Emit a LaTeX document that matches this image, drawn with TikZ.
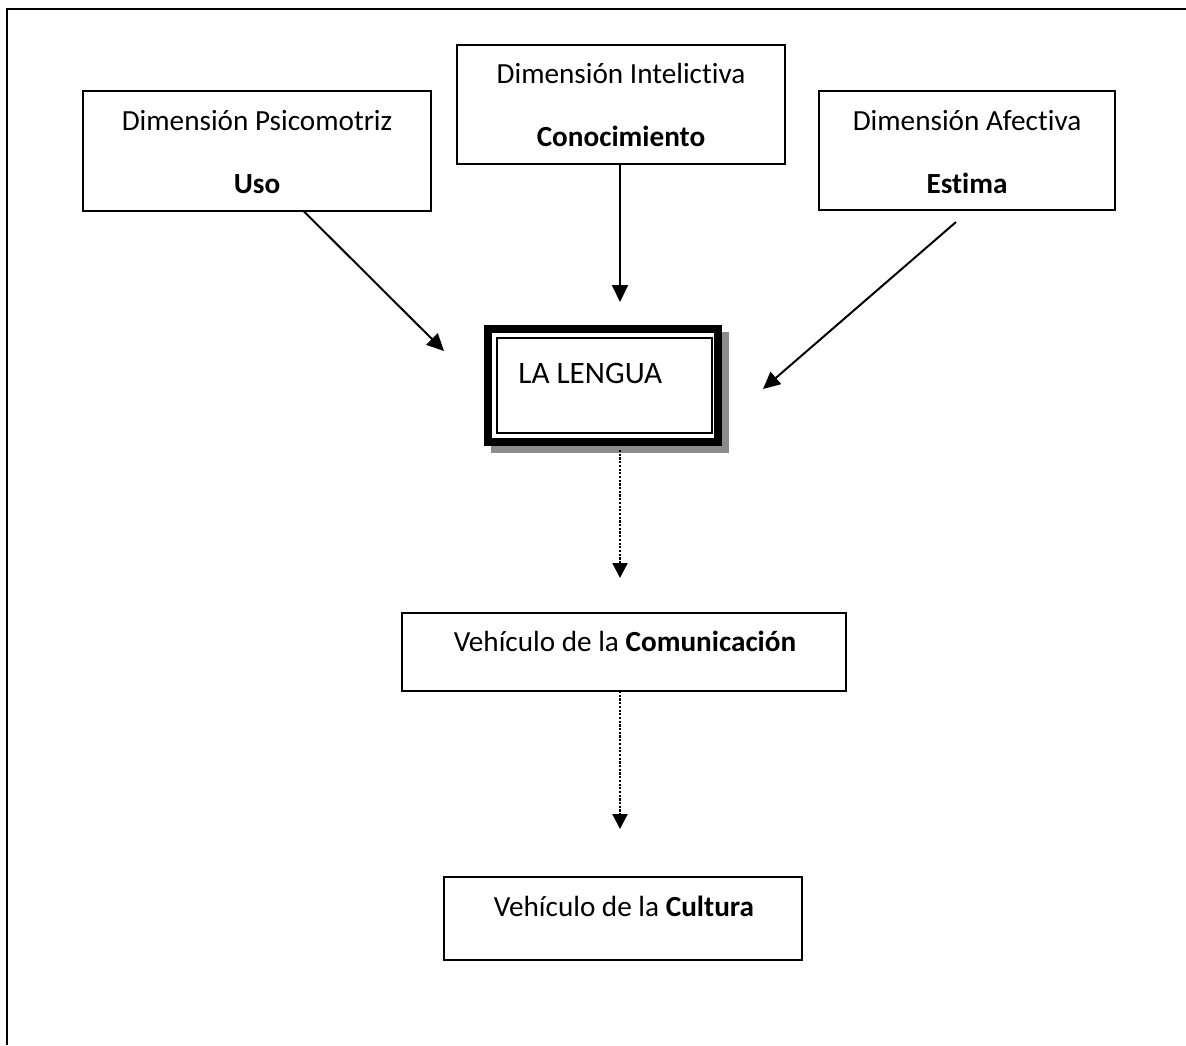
\documentclass[tikz,border=0pt]{standalone}
\usepackage{fontspec}
\setmainfont{Carlito}[Ligatures={NoCommon}]
\usetikzlibrary{arrows.meta}
\begin{document}
\begin{tikzpicture}[x=0.5pt,y=-0.5pt,
  box/.style={draw=black,line width=0.9pt,rectangle,inner sep=0pt},
  txt/.style={inner sep=0pt,anchor=base,font=\fontsize{14.6}{17}\selectfont},
  solidarrow/.style={line width=1pt,-{Triangle[length=8.5pt,width=8pt]}},
  dotarrow/.style={line width=1.1pt,dash pattern=on 1.1pt off 0.75pt,-{Triangle[length=7.5pt,width=7.5pt]}},
  frameline/.style={line width=1pt}]
\useasboundingbox (0,0) rectangle (1186,1045);
% outer frame (left and top only)
\coordinate (fbl) at (6.5,1045);
\coordinate (ftl) at (6.5,9);
\coordinate (ftr) at (1186,9);
\draw[frameline] (fbl) -- (ftl) -- (ftr);

% top boxes
\node[box,minimum width=174pt,minimum height=60pt] (psico) at (257,151) {};
\node[txt] (psico1) at (257,130) {Dimensión Psicomotriz};
\node[txt] (psico2) at (257,193) {\textbf{Uso}};

\node[box,minimum width=164pt,minimum height=59.5pt] (intel) at (621,104.5) {};
\node[txt] (intel1) at (621,83) {Dimensión Intelictiva};
\node[txt] (intel2) at (621,146) {\textbf{Conocimiento}};

\node[box,minimum width=148pt,minimum height=59.5pt] (afect) at (967,150.5) {};
\node[txt] (afect1) at (967,130) {Dimensión Afectiva};
\node[txt] (afect2) at (967,193) {\textbf{Estima}};

% LA LENGUA box
\node[inner sep=0pt,minimum width=119pt,minimum height=60.5pt] (lengua) at (603,385.5) {};
\fill[black!45] ([shift={(7,7)}]lengua.north west) rectangle ([shift={(7,7)}]lengua.south east);
\fill[white] (lengua.north west) rectangle (lengua.south east);
\draw[line width=4pt] ([shift={(4,4)}]lengua.north west) rectangle ([shift={(-4,-4)}]lengua.south east);
\draw[line width=1pt] ([shift={(13,13)}]lengua.north west) rectangle ([shift={(-10,-13)}]lengua.south east);
\node[inner sep=0pt,anchor=base west,font=\fontsize{15.6}{18}\selectfont] (lenguatxt) at (518,383) {LA LENGUA};

% lower boxes
\node[box,minimum width=222pt,minimum height=39pt] (comm) at (623.7,651.7) {};
\node[txt] (commtxt) at (625,651.7) {Vehículo de la \textbf{Comunicación}};

\node[box,minimum width=179pt,minimum height=41.5pt] (cult) at (623,918.5) {};
\node[txt] (culttxt) at (624,916) {Vehículo de la \textbf{Cultura}};

% arrows
\coordinate (a1s) at (304,211.5);
\coordinate (a1e) at (444,351);
\draw[solidarrow] (a1s) -- (a1e);

\coordinate (a2s) at (620,164.5);
\coordinate (a2e) at (620,302);
\draw[solidarrow] (a2s) -- (a2e);

\coordinate (a3s) at (956,222);
\coordinate (a3e) at (763,389);
\draw[solidarrow] (a3s) -- (a3e);

\coordinate (d1s) at (620,450);
\coordinate (d1e) at (620,578);
\draw[dotarrow] (d1s) -- (d1e);

\coordinate (d2s) at (620,691);
\coordinate (d2e) at (620,829);
\draw[dotarrow] (d2s) -- (d2e);
\end{tikzpicture}
\end{document}
